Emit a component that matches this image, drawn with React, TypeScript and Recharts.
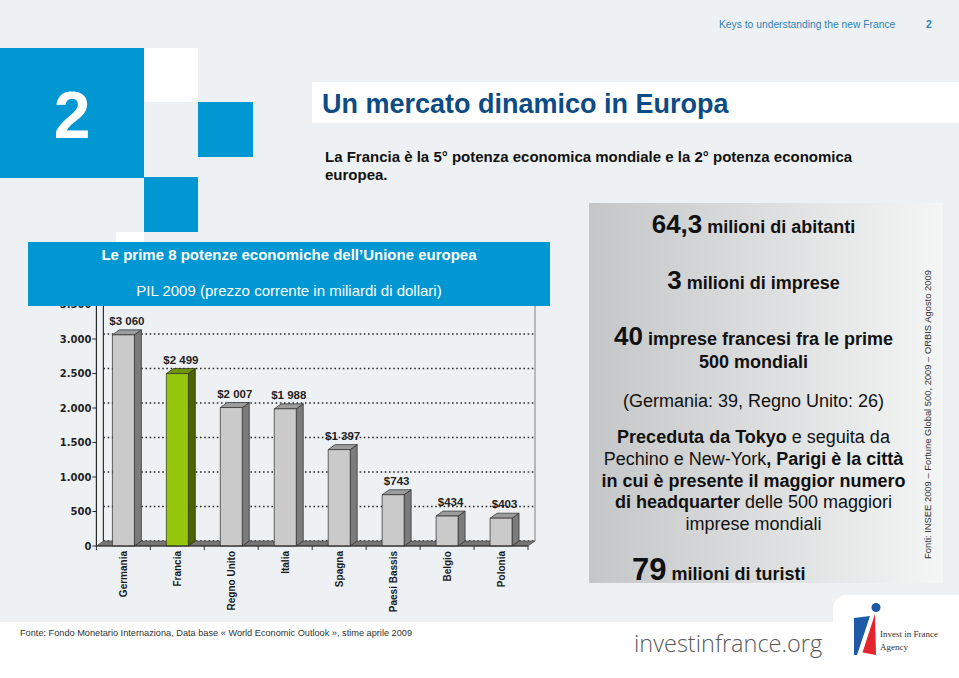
import React from 'react';
import { BarChart, Bar, XAxis, YAxis, CartesianGrid, ReferenceArea, LabelList } from 'recharts';

// PIL 2009, miliardi di dollari
const countries = ['Germania', 'Francia', 'Regno Unito', 'Italia', 'Spagna', 'Paesi Bassis', 'Belgio', 'Polonia'];
const gdp2009 = [3060, 2499, 2007, 1988, 1397, 743, 434, 403];
const highlighted = ['Francia'];
const yTicks = [0, 500, 1000, 1500, 2000, 2500, 3000, 3500];

const data = countries.map((name, i) => ({ name, pil: gdp2009[i] }));

const FONT = '"Liberation Sans", Arial, Helvetica, sans-serif';
const BLUE = '#0097d3';
const DX = 7;
const DY = 5;

function groupThousands(v: number, sep: string) {
  if (v < 1000) return String(v);
  return `${Math.floor(v / 1000)}${sep}${String(v % 1000).padStart(3, '0')}`;
}

// 3D-looking bar: front face, right side, top
function Bar3D(props: any) {
  const { x, y, width, height, payload } = props;
  const hot = highlighted.includes(payload.name);
  const front = hot ? '#97c70a' : '#cacaca';
  const side = hot ? '#4b6400' : '#7b7b7b';
  const top = hot ? '#6f9400' : '#9c9c9c';
  return (
    <g stroke="#2a2a2a" strokeWidth={0.7} strokeLinejoin="round">
      <polygon
        points={`${x + width},${y} ${x + width + DX},${y - DY} ${x + width + DX},${y + height - DY} ${x + width},${y + height}`}
        fill={side}
      />
      <polygon points={`${x},${y} ${x + DX},${y - DY} ${x + width + DX},${y - DY} ${x + width},${y}`} fill={top} />
      <rect x={x} y={y} width={width} height={height} fill={front} />
    </g>
  );
}

// back wall edges, floor slab and category boundary ticks
function Wall(props: any) {
  const { x, y, width, height } = props;
  const floorY = y + height;
  const step = width / countries.length;
  return (
    <g>
      <line x1={x + DX} y1={y - 12} x2={x + DX} y2={floorY - DY} stroke="#333" strokeWidth={1.2} />
      <line x1={x + width + DX} y1={y - 12} x2={x + width + DX} y2={floorY - DY} stroke="#666" strokeWidth={0.8} />
      <polygon
        points={`${x},${floorY} ${x + width},${floorY} ${x + width + DX},${floorY - DY} ${x + DX},${floorY - DY}`}
        fill="#767676"
        stroke="#333"
        strokeWidth={0.6}
      />
      {[...countries, ''].map((_, i) => (
        <line key={i} x1={x + step * i} y1={floorY} x2={x + step * i} y2={floorY + 4} stroke="#333" strokeWidth={1} />
      ))}
    </g>
  );
}

function CountryTick(props: any) {
  const { x, y, payload } = props;
  return (
    <text
      x={x}
      y={y}
      dy="0.35em"
      transform={`rotate(-90, ${x}, ${y})`}
      textAnchor="end"
      fontFamily={FONT}
      fontWeight={700}
      fontSize={10}
      fill="#1a1a1a"
    >
      {payload.value}
    </text>
  );
}

function ValueLabel(props: any) {
  const { x, y, width, value } = props;
  return (
    <text
      x={x + width / 2 + DX / 2}
      y={y - 10}
      textAnchor="middle"
      fontFamily={FONT}
      fontWeight={700}
      fontSize={11.5}
      fill="#1f1f1f"
    >
      {'$' + groupThousands(value, ' ')}
    </text>
  );
}

function GridLine(p: any) {
  return (
    <line
      key={p.key ?? `g-${p.index}`}
      x1={p.x1 + DX}
      y1={p.y1 - DY}
      x2={p.x2 + DX}
      y2={p.y2 - DY}
      stroke="#2e2e2e"
      strokeWidth={1.4}
      strokeDasharray="1.6 2.6"
    />
  );
}

export default function App() {
  return (
    <div
      style={{
        position: 'absolute',
        left: 0,
        top: 0,
        width: 959,
        height: 678,
        background: '#ffffff',
        overflow: 'hidden',
        fontFamily: FONT,
      }}
    >
      <svg width={959} height={678} style={{ position: 'absolute', left: 0, top: 0 }}>
        <defs>
          <linearGradient id="panel" x1="0" y1="0" x2="1" y2="0">
            <stop offset="0%" stopColor="#c5c6c7" />
            <stop offset="100%" stopColor="#f4f5f5" />
          </linearGradient>
        </defs>
        <rect x={0} y={0} width={959} height={622} fill="#eef1f3" />

        {/* squares */}
        <rect x={0} y={48} width={144} height={130} fill={BLUE} />
        <rect x={144} y={48} width={54} height={54} fill="#ffffff" />
        <rect x={198} y={102} width={55} height={55} fill={BLUE} />
        <rect x={144} y={177} width={54} height={55} fill={BLUE} />
        <rect x={116} y={232} width={28} height={12} fill="#ffffff" />
        <text x={72} y={138} textAnchor="middle" fontSize={66} fontWeight={700} fill="#ffffff">
          2
        </text>

        <text x={719} y={28} fontSize={10.3} fill="#2f82b6">
          Keys to understanding the new France
        </text>
        <text x={926} y={28} fontSize={10.3} fontWeight={700} fill="#2f82b6">
          2
        </text>

        <rect x={312} y={82} width={647} height={41} fill="#ffffff" />
        <text x={322} y={113} fontSize={27} fontWeight={700} fill="#0c4b84">
          Un mercato dinamico in Europa
        </text>
        <text x={325} y={162} fontSize={15} fontWeight={700} fill="#111">
          La Francia è la 5° potenza economica mondiale e la 2° potenza economica
        </text>
        <text x={325} y={180} fontSize={15} fontWeight={700} fill="#111">
          europea.
        </text>

        {/* key figures panel */}
        <rect x={589} y={203} width={354} height={380} fill="url(#panel)" />
        <g fill="#111" textAnchor="middle" fontWeight={700}>
          <text x={753.5} y={233}>
            <tspan fontSize={26}>64,3</tspan>
            <tspan fontSize={18}> milioni di abitanti</tspan>
          </text>
          <text x={753.5} y={289}>
            <tspan fontSize={26}>3</tspan>
            <tspan fontSize={18}> milioni di imprese</tspan>
          </text>
          <text x={753.5} y={345}>
            <tspan fontSize={26}>40</tspan>
            <tspan fontSize={18}> imprese francesi fra le prime</tspan>
          </text>
          <text x={753.5} y={368} fontSize={18}>
            500 mondiali
          </text>
        </g>
        <g fill="#111" textAnchor="middle" fontSize={18}>
          <text x={753.5} y={407}>
            (Germania: 39, Regno Unito: 26)
          </text>
          <text x={753.5} y={443}>
            <tspan fontWeight={700}>Preceduta da Tokyo</tspan>
            <tspan> e seguita da</tspan>
          </text>
          <text x={753.5} y={465}>
            <tspan>Pechino e New-York</tspan>
            <tspan fontWeight={700}>, Parigi è la città</tspan>
          </text>
          <text x={753.5} y={487} fontWeight={700}>
            in cui è presente il maggior numero
          </text>
          <text x={753.5} y={508}>
            <tspan fontWeight={700}>di headquarter</tspan>
            <tspan> delle 500 maggiori</tspan>
          </text>
          <text x={753.5} y={530}>
            imprese mondiali
          </text>
        </g>
        <text x={632} y={580} fill="#111" fontWeight={700}>
          <tspan fontSize={31}>79</tspan>
          <tspan fontSize={18}> milioni di turisti</tspan>
        </text>
        <text
          x={931}
          y={414.5}
          transform="rotate(-90, 931, 414.5)"
          textAnchor="middle"
          fontSize={9.4}
          fill="#333"
        >
          Fonti: INSEE 2009 – Fortune Global 500, 2009 – ORBIS Agosto 2009
        </text>

        {/* footer */}
        <text x={20} y={636} fontSize={9.2} fill="#333">
          Fonte: Fondo Monetario Internaziona, Data base « World Economic Outlook », stime aprile 2009
        </text>
        <text x={634} y={652} fontSize={23.5} fontWeight={300} fontFamily='"Open Sans", sans-serif' fill="#5a5a5a">
          investinfrance.org
        </text>
        <rect x={833} y={595} width={150} height={100} rx={14} fill="#ffffff" />
        <polygon points="854,618 870,616 857,655 854,655" fill="#1e5aa6" />
        <polygon points="875,614 876,655 862.5,652.5" fill="#e3262d" />
        <circle cx={876} cy={607.5} r={4.5} fill="#1e5aa6" />
        <text x={880} y={637} fontSize={9} fontFamily='"Liberation Serif", serif' fill="#333">
          Invest in France
        </text>
        <text x={880} y={650} fontSize={9} fontFamily='"Liberation Serif", serif' fill="#333">
          Agency
        </text>
      </svg>

      <div style={{ position: 'absolute', left: 0, top: 0 }}>
        <BarChart
          width={600}
          height={620}
          data={data}
          margin={{ top: 304.5, right: 72, bottom: 14, left: 36.4 }}
        >
          <CartesianGrid vertical={false} horizontal={GridLine} />
          <XAxis
            dataKey="name"
            type="category"
            height={60}
            tickLine={false}
            tickSize={0}
            tickMargin={5}
            interval={0}
            axisLine={{ stroke: '#2a2a2a', strokeWidth: 1.2 }}
            tick={<CountryTick />}
          />
          <YAxis
            type="number"
            width={60}
            domain={[0, 3500]}
            ticks={yTicks}
            interval={0}
            tickSize={4}
            tickMargin={1}
            axisLine={{ stroke: '#2a2a2a', strokeWidth: 1.2 }}
            tickLine={{ stroke: '#2a2a2a' }}
            tickFormatter={(v: number) => groupThousands(v, '.')}
            tick={{ fontFamily: '"DejaVu Sans", sans-serif', fontWeight: 700, fontSize: 10, fill: '#1f1f1f' }}
          />
          <ReferenceArea y1={0} y2={3500} shape={<Wall />} ifOverflow="visible" />
          <Bar dataKey="pil" barSize={22} shape={<Bar3D />} isAnimationActive={false}>
            <LabelList dataKey="pil" content={<ValueLabel />} />
          </Bar>
        </BarChart>
      </div>

      <svg width={959} height={678} style={{ position: 'absolute', left: 0, top: 0, pointerEvents: 'none' }}>
        <rect x={28} y={242} width={522} height={64} fill={BLUE} />
        <text x={289} y={260} textAnchor="middle" fontSize={15} fontWeight={700} fill="#ffffff">
          Le prime 8 potenze economiche dell’Unione europea
        </text>
        <text x={289} y={296} textAnchor="middle" fontSize={15} fill="#ffffff">
          PIL 2009 (prezzo corrente in miliardi di dollari)
        </text>
      </svg>
    </div>
  );
}
